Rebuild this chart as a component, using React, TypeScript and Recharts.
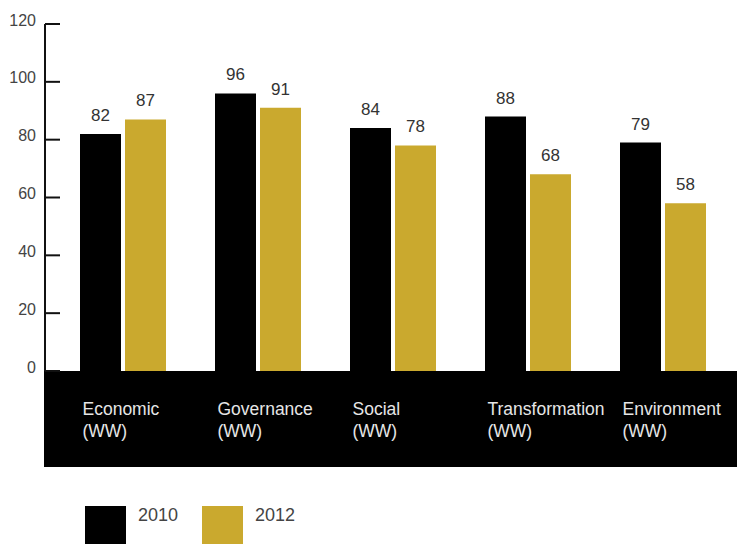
import React from 'react';
import { BarChart, Bar, XAxis, YAxis, LabelList, Legend } from 'recharts';

const categories = ['Economic', 'Governance', 'Social', 'Transformation', 'Environment'];
const categorySuffix = '(WW)';
const values2010 = [82, 96, 84, 88, 79];
const values2012 = [87, 91, 78, 68, 58];
const seriesNames = ['2010', '2012'];
const yTicks = [0, 20, 40, 60, 80, 100, 120];

const BLACK = '#000000';
const GOLD = '#CAA92E';
const FONT = '"Liberation Sans", Arial, sans-serif';

const data = categories.map((c, i) => ({
  name: c,
  v2010: values2010[i],
  v2012: values2012[i],
}));

const YTick = (props: any) => {
  const { x, y, payload } = props;
  return (
    <g>
      <line x1={x} x2={x + 15} y1={y} y2={y} stroke="#111" strokeWidth={2} />
      <text
        x={x - 9}
        y={y - 4}
        textAnchor="end"
        dominantBaseline="central"
        fill="#444"
        fontSize={16}
        fontFamily={FONT}
      >
        {payload.value}
      </text>
    </g>
  );
};

const XTick = (props: any) => {
  const { x, y, payload } = props;
  return (
    <g>
      <text x={x - 40} y={y + 44} textAnchor="start" fill="#e6e6e6" fontSize={17.5} fontFamily={FONT}>
        {payload.value}
      </text>
      <text x={x - 40} y={y + 66} textAnchor="start" fill="#e6e6e6" fontSize={17.5} fontFamily={FONT}>
        {categorySuffix}
      </text>
    </g>
  );
};

const LegendContent = (props: any) => {
  const { payload } = props;
  return (
    <div style={{ display: 'flex', paddingLeft: 85, fontFamily: FONT }}>
      {(payload || []).map((p: any, i: number) => (
        <div key={i} style={{ display: 'flex', alignItems: 'flex-start', width: 117 }}>
          <div style={{ width: 41, height: 38, background: p.color }} />
          <span
            style={{
              marginLeft: 12,
              fontSize: 18,
              lineHeight: '18px',
              color: '#444',
            }}
          >
            {p.value}
          </span>
        </div>
      ))}
    </div>
  );
};

export default function App() {
  return (
    <div style={{ position: 'absolute', left: 0, top: 0, width: 737, height: 544, background: '#fff', overflow: 'hidden' }}>
      <div style={{ position: 'absolute', left: 44, top: 371, width: 693, height: 96, background: BLACK }} />
      <BarChart
        width={737}
        height={544}
        data={data}
        margin={{ top: 24, right: 7, left: 0, bottom: 77 }}
        barSize={41}
        barGap={4}
      >
        <XAxis
          dataKey="name"
          axisLine={false}
          tickLine={false}
          tickSize={0}
          tickMargin={0}
          height={96}
          padding={{ left: 10, right: 0 }}
          tick={<XTick />}
          interval={0}
        />
        <YAxis
          domain={[0, 120]}
          ticks={yTicks}
          width={45}
          axisLine={{ stroke: '#111', strokeWidth: 2 }}
          tickLine={false}
          tickSize={0}
          tickMargin={0}
          tick={<YTick />}
          interval={0}
        />
        <Legend
          layout="horizontal"
          verticalAlign="middle"
          align="center"
          wrapperStyle={{ left: 0, top: 506, width: 737 }}
          content={<LegendContent />}
        />
        <Bar dataKey="v2010" name={seriesNames[0]} fill={BLACK} isAnimationActive={false}>
          <LabelList dataKey="v2010" position="top" offset={13} fill="#333" fontSize={17} fontFamily={FONT} />
        </Bar>
        <Bar dataKey="v2012" name={seriesNames[1]} fill={GOLD} isAnimationActive={false}>
          <LabelList dataKey="v2012" position="top" offset={13} fill="#333" fontSize={17} fontFamily={FONT} />
        </Bar>
      </BarChart>
    </div>
  );
}
